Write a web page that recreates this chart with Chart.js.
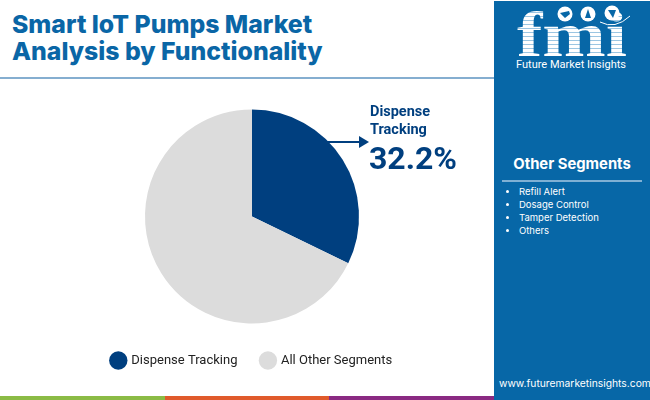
<!DOCTYPE html>
<html>
<head>
<meta charset="utf-8">
<title>Smart IoT Pumps Market</title>
<script src="https://cdn.jsdelivr.net/npm/chart.js@4/dist/chart.umd.min.js"></script>
<style>
  html, body { margin: 0; padding: 0; background: #fff; }
  #page { position: relative; width: 650px; height: 400px; overflow: hidden; font-family: Inter, sans-serif; }
  #title { position: absolute; left: 12px; top: 11px; color: #0a66a6; font-weight: 800; font-size: 24.8px; line-height: 27px; white-space: nowrap; }
  #rule { position: absolute; left: 0; top: 77px; width: 494px; height: 2px; background: #85aed0; }
  #chart-box { position: absolute; left: 0; top: 103px; width: 494px; height: 274px; }
  #callout { position: absolute; left: 370px; top: 103px; color: #003f7f; font-family: Roboto, sans-serif; font-weight: 700; }
  #callout .name { font-size: 14.5px; line-height: 18px; }
  #callout .value { font-size: 32px; line-height: 36px; margin-top: 1px; margin-left: -1px; }
  #arrow { position: absolute; left: 325px; top: 134px; }
  #side { position: absolute; left: 494px; top: 1px; width: 156px; height: 399px; background: #0767a7; color: #fff; }
  #logo { position: absolute; left: 0; top: 0; }
  #side h3 { position: absolute; left: 0; width: 156px; top: 154px; margin: 0; text-align: center; font-size: 14.8px; line-height: 18px; font-weight: 700; }
  #side hr { position: absolute; left: 8px; top: 179px; width: 140px; height: 2px; margin: 0; border: 0; background: #7fb0d4; }
  #segments { position: absolute; left: 25px; top: 184px; margin: 0; padding: 0; list-style: none; font-size: 9.5px; line-height: 13px; }
  #segments li { position: relative; white-space: nowrap; }
  #segments li::before { content: ""; position: absolute; left: -13px; top: 5px; width: 3px; height: 3px; border-radius: 50%; background: #fff; }
  #url { position: absolute; left: 5px; top: 375px; font-size: 10.3px; line-height: 14px; white-space: nowrap; }
  #bars { position: absolute; left: 0; top: 396px; width: 494px; height: 4px; display: flex; }
  #bars div { flex: 1; }
</style>
</head>
<body>
<div id="page">
  <div id="title"></div>
  <div id="rule"></div>
  <div id="chart-box"><canvas id="pie-chart"></canvas></div>
  <svg id="arrow" width="44" height="16">
    <line x1="0" y1="8" x2="35" y2="8" stroke="#003f7f" stroke-width="2"></line>
    <polygon points="34,2 44,8 34,14" fill="#003f7f"></polygon>
  </svg>
  <div id="callout"><div class="name"></div><div class="value"></div></div>
  <div id="side">
    <svg id="logo" width="156" height="76">
      <defs>
        <pattern id="stripes" width="4" height="4" patternUnits="userSpaceOnUse">
          <rect width="4" height="3" fill="#ffffff"></rect>
          <rect y="3" width="4" height="1" fill="#9cc6e2"></rect>
        </pattern>
      </defs>
      <text x="23" y="55" font-family="Liberation Serif" font-weight="700" font-size="64" textLength="110" lengthAdjust="spacingAndGlyphs" fill="url(#stripes)">fmi</text>
      <circle cx="71" cy="13" r="7.5" fill="#fff"></circle>
      <circle cx="94" cy="13" r="7.5" fill="#fff"></circle>
      <circle cx="118" cy="12" r="7.5" fill="#fff"></circle>
      <path d="M66,12 l9,-2 l1,3 l-5,4 z M91,17 l3,-9 l3,9 z M114,9 l8,0 l-3,8 z" fill="#0767a7"></path>
      <path d="M106,21 q15,8 30,-6" fill="none" stroke="#fff" stroke-width="1"></path>
      <text x="22" y="67" font-family="Roboto" font-size="11" textLength="110" lengthAdjust="spacingAndGlyphs" fill="#fff">Future Market Insights</text>
    </svg>
    <h3>Other Segments</h3>
    <hr>
    <ul id="segments"></ul>
    <div id="url"></div>
  </div>
  <div id="bars"></div>
</div>
<script>
// 数据
var titleLines = ["Smart IoT Pumps Market", "Analysis by Functionality"];
var categories = ["Dispense Tracking", "All Other Segments"];
var shares = [32.2, 67.8];
var sliceColors = ["#003f7f", "#dcdcdc"];
var calloutLines = ["Dispense", "Tracking"];
var otherSegments = ["Refill Alert", "Dosage Control", "Tamper Detection", "Others"];
var siteUrl = "www.futuremarketinsights.com";
var barColors = ["#8bbb45", "#e05a2b", "#8a2a82"];

document.getElementById("title").innerHTML = titleLines.join("<br>");
document.querySelector("#callout .name").innerHTML = calloutLines.join("<br>");
document.querySelector("#callout .value").textContent = shares[0].toFixed(1) + "%";
document.getElementById("url").textContent = siteUrl;
otherSegments.forEach(function (s) {
  var li = document.createElement("li");
  li.textContent = s;
  document.getElementById("segments").appendChild(li);
});
barColors.forEach(function (c) {
  var d = document.createElement("div");
  d.style.background = c;
  document.getElementById("bars").appendChild(d);
});

new Chart(document.getElementById("pie-chart").getContext("2d"), {
  type: "pie",
  data: {
    labels: categories,
    datasets: [{
      data: shares,
      backgroundColor: sliceColors,
      borderWidth: 0,
      hoverOffset: 0,
    }],
  },
  options: {
    responsive: true,
    maintainAspectRatio: false,
    animation: false,
    radius: 107,
    layout: { padding: { left: 10, right: 0, top: 0, bottom: 0 } },
    plugins: {
      tooltip: { enabled: false },
      legend: {
        display: true,
        position: "bottom",
        labels: {
          usePointStyle: true,
          pointStyle: "circle",
          padding: 24,
          color: "#222222",
          font: { family: "Roboto", size: 13 },
        },
      },
    },
  },
});
</script>
</body>
</html>
